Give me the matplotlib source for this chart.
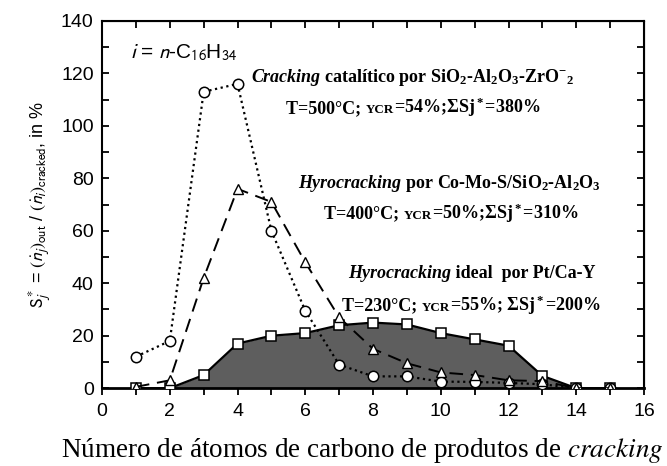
import matplotlib
matplotlib.use("Agg")
import matplotlib.pyplot as plt
from matplotlib.ticker import MultipleLocator
from matplotlib.offsetbox import TextArea, HPacker, AnnotationBbox

plt.rcParams["font.family"] = ["Liberation Sans", "DejaVu Sans"]
plt.rcParams["mathtext.fontset"] = "custom"
plt.rcParams["mathtext.rm"] = "Liberation Serif:bold"
plt.rcParams["mathtext.it"] = "Liberation Serif:bold:italic"
plt.rcParams["mathtext.bf"] = "Liberation Serif:bold"

# Carbon number of the cracked products
carbon_number = [1, 2, 3, 4, 5, 6, 7, 8, 9, 10, 11, 12, 13, 14, 15]

# Selectivities S*_j in % for each catalyst
catalytic_sio2_al2o3_zro2 = [12, 18, 113, 116, 60, 29.5, 9, 4.5, 4.5, 2.5, 2.4, 2, 1.5, 0, 0]
hydro_como_s = [0.5, 3, 42, 76, 71, 48, 27, 15, 9.5, 6, 5, 3, 2.7, 0, 0]
hydro_ideal_pt = [0, 0, 5, 17, 20, 21, 24, 25, 24.3, 21, 18.6, 16.2, 4.7, 0, 0]

x_ticks = [0, 2, 4, 6, 8, 10, 12, 14, 16]
y_ticks = [0, 20, 40, 60, 80, 100, 120, 140]

fig = plt.figure(figsize=(6.67, 4.66), dpi=100)
ax = fig.add_axes([0.153, 0.167, 0.8125, 0.788])

ax.fill_between(carbon_number, hydro_ideal_pt, 0, color="#5e5e5e", zorder=1, linewidth=0)

ax.plot(carbon_number, hydro_ideal_pt, linestyle="-", color="black",
        linewidth=1.6, marker="s", markersize=7, markerfacecolor="white",
        markeredgecolor="black", markeredgewidth=1.1, zorder=3)
ax.plot(carbon_number, catalytic_sio2_al2o3_zro2, linestyle=(0, (1, 1.6)), color="black",
        linewidth=1.6, marker="o", markersize=7.5, markerfacecolor="white",
        markeredgecolor="black", markeredgewidth=1.1, zorder=4)
ax.plot(carbon_number, hydro_como_s, linestyle=(0, (7, 4)), color="black",
        linewidth=1.4, marker="^", markersize=6.5, markerfacecolor="white",
        markeredgecolor="black", markeredgewidth=1.0, zorder=5)

ax.set_xlim(0, 16)
ax.set_ylim(0, 140)
ax.set_xticks(x_ticks)
ax.set_yticks(y_ticks)
ax.xaxis.set_minor_locator(MultipleLocator(1))
ax.yaxis.set_minor_locator(MultipleLocator(10))
ax.tick_params(axis="x", which="both", direction="out", length=5, width=1.3,
               top=False, labelsize=14, pad=6)
ax.tick_params(axis="y", which="both", direction="in", length=5, width=1.3,
               labelsize=14, pad=6)
for side in ["left", "right", "top"]:
    ax.spines[side].set_linewidth(1.5)
ax.spines["bottom"].set_linewidth(2.0)

# inward tick marks along the top and right frame
top = ax.secondary_xaxis("top")
top.set_xticks(x_ticks)
top.xaxis.set_minor_locator(MultipleLocator(1))
top.tick_params(which="both", direction="in", length=5, width=1.3, labeltop=False)
right = ax.secondary_yaxis("right")
right.set_yticks(y_ticks)
right.yaxis.set_minor_locator(MultipleLocator(10))
right.tick_params(which="both", direction="in", length=5, width=1.3, labelright=False)

ax.set_xlabel(r"Número de átomos de carbono de produtos de $\mathit{cracking}$",
              fontsize=19.5, family="Liberation Serif", math_fontfamily="stix")
ax.xaxis.set_label_coords(0.48, -0.169)
ax.xaxis.label.set_verticalalignment("center")
ax.set_ylabel(r"$\mathrm{S}_j^*$ = $(\dot{n}_j)_\mathrm{out}$ / $(\dot{n}_i)_\mathrm{cracked}$, in %",
              fontsize=13, math_fontfamily="stixsans", labelpad=5)

ax.text(0.83, 128, r"$i$ = $n$-C$_{16}$H$_{34}$", fontsize=15, va="center", ha="left",
        math_fontfamily="stixsans")

FS = 13
bold = dict(family="Liberation Serif", fontweight="bold", fontsize=FS, color="black",
            math_fontfamily="custom")
bold_it = dict(bold, fontstyle="italic")
small = dict(bold, fontsize=FS * 0.72)


def annotate(pieces, x, y):
    boxes = [TextArea(s, textprops=p) for s, p in pieces]
    pack = HPacker(children=boxes, align="baseline", pad=0, sep=0)
    ab = AnnotationBbox(pack, (x, y), xycoords="data", frameon=False,
                        box_alignment=(0.5, 0.5), zorder=6)
    ax.add_artist(ab)


annotate([("Cracking", bold_it),
          (" catalítico por SiO$_2$-Al$_2$O$_3$-ZrO$^{-}$$_2$", bold)], 9.17, 118.3)
annotate([("T=500°C; ", bold), ("YCR", small), ("=54%;ΣSj$^*$=380%", bold)], 9.2, 106.9)
annotate([("Hyrocracking", bold_it),
          (" por Co-Mo-S/SiO$_2$-Al$_2$O$_3$", bold)], 10.27, 78.2)
annotate([("T=400°C; ", bold), ("YCR", small), ("=50%;ΣSj$^*$=310%", bold)], 10.32, 66.8)
annotate([("Hyrocracking", bold_it), (" ideal  por Pt/Ca-Y", bold)], 10.91, 43.9)
annotate([("T=230°C; ", bold), ("YCR", small), ("=55%; ΣSj$^*$=200%", bold)], 10.91, 31.7)

fig.savefig("out.png", dpi=100)
